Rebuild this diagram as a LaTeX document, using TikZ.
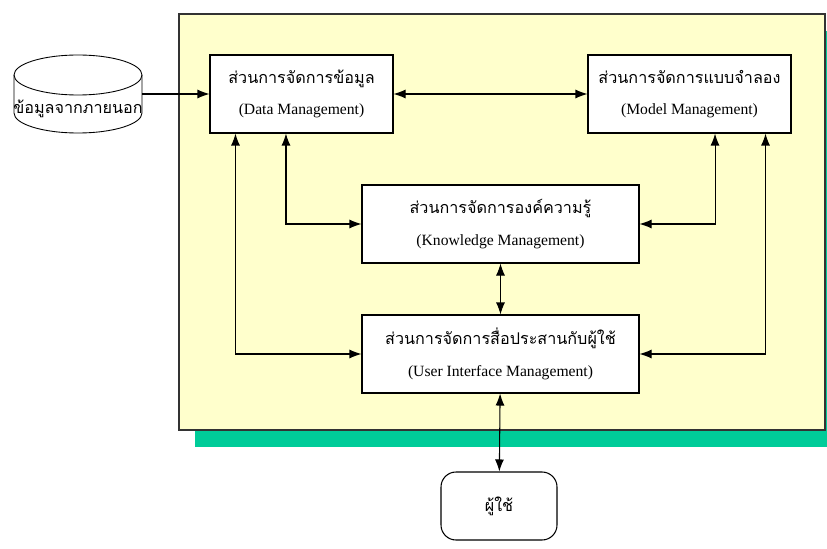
\documentclass[tikz,border=0pt]{standalone}
\usepackage{fontspec}
\setmainfont{Liberation Serif}
\newfontfamily\thaifont[Script=Thai]{Loma}
\usetikzlibrary{arrows.meta,positioning,calc,shapes.geometric}
\definecolor{panelyellow}{HTML}{FFFFCC}
\definecolor{shadowgreen}{HTML}{00CC99}
\newcommand{\thai}[1]{{\thaifont\fontsize{9.2}{12}\selectfont #1}}

\begin{document}
\begin{tikzpicture}[
  module/.style={rectangle, draw, fill=white, line width=0.6pt, minimum height=1.56cm, align=center, inner sep=0pt, font=\fontsize{8.9}{18}\selectfont},
  person/.style={rectangle, rounded corners=0.3cm, draw, fill=white, line width=0.6pt, minimum width=2.32cm, minimum height=1.36cm},
  arrow/.style={-{Latex[length=2.4mm,width=1.8mm]}, line width=0.6pt},
  twoway/.style={{Latex[length=2.4mm,width=1.8mm]}-{Latex[length=2.4mm,width=1.8mm]}, line width=0.6pt}
]
\useasboundingbox (0,0) rectangle (16.54,10.96);
% system panel and its shadow
\fill[shadowgreen] (3.90,2.02) rectangle (16.82,10.34);
\draw[fill=panelyellow, draw=black!80, line width=0.6pt] (3.58,2.36) rectangle (16.50,10.68);

% outside data drawn as a cylinder
\draw[fill=white, line width=0.5pt] (0.28,9.46) -- (0.28,8.70) arc[start angle=180, end angle=360, x radius=1.28, y radius=0.4]
  -- (2.84,9.46) arc[start angle=0, end angle=180, x radius=1.28, y radius=0.4] -- cycle;
\draw[line width=0.5pt] (0.28,9.46) arc[start angle=180, end angle=360, x radius=1.28, y radius=0.4];
\node (ext) at (1.56,8.78) {\thai{ข้อมูลจากภายนอก}};
\coordinate (extside) at (2.84,9.08);

\node[module, minimum width=3.66cm] (data) at (6.03,9.08) {\thai{ส่วนการจัดการข้อมูล}\\(Data Management)};
\node[module, minimum width=4.06cm] (model) at (13.79,9.08) {\thai{ส่วนการจัดการแบบจำลอง}\\(Model Management)};
\node[module, minimum width=5.54cm] (know) at (10.01,6.48) {\thai{ส่วนการจัดการองค์ความรู้}\\(Knowledge Management)};
\node[module, minimum width=5.54cm] (ui) at (10.01,3.88) {\thai{ส่วนการจัดการสื่อประสานกับผู้ใช้}\\(User Interface Management)};
\node[person] (user) at (9.98,0.84) {\thai{ผู้ใช้}};

\draw[arrow] (extside) -- (data.west);
\draw[twoway] (data) -- (model);
\draw[twoway] ([xshift=0.52cm]data.south west) |- (ui.west);
\draw[twoway] ([xshift=1.53cm]data.south west) |- (know.west);
\draw[twoway] ([xshift=-1.53cm]model.south east) |- (know.east);
\draw[twoway] ([xshift=-0.52cm]model.south east) |- (ui.east);
\draw[twoway] (know) -- (ui);
\draw[twoway] (ui) -- (user);
\end{tikzpicture}
\end{document}
